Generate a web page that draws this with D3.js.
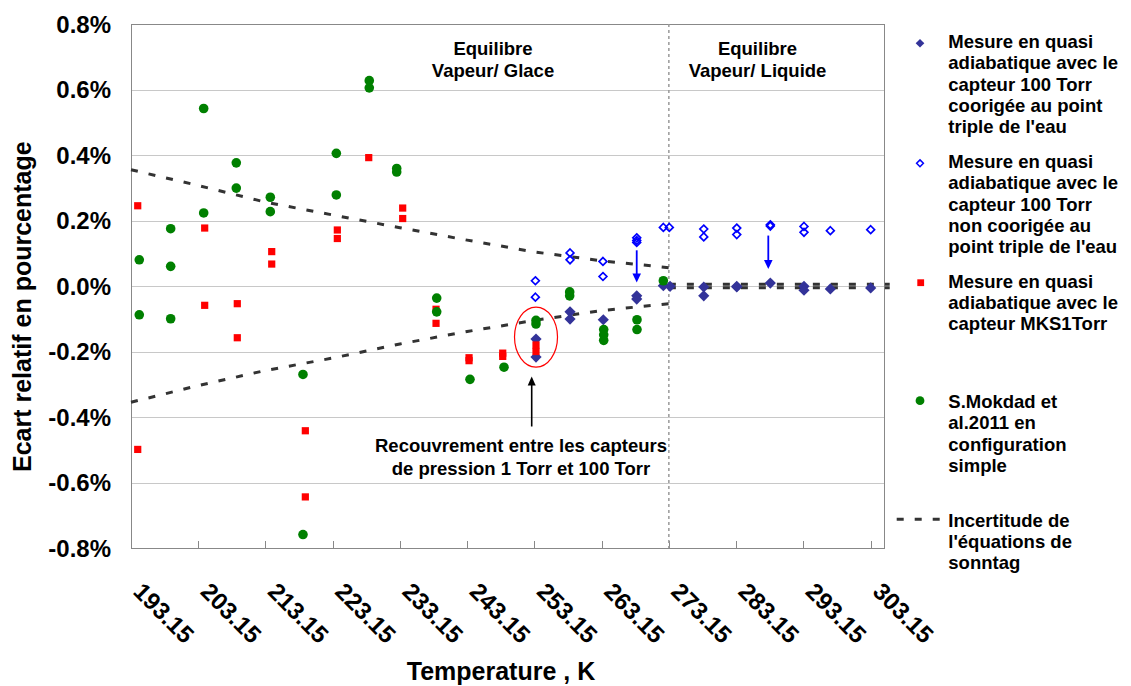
<!DOCTYPE html>
<html><head><meta charset="utf-8">
<script src="https://cdn.jsdelivr.net/npm/d3@7"></script>
<style>
body{margin:0;background:#fff;}
svg{display:block;font-family:"Liberation Sans",Arial,sans-serif;font-weight:bold;}
</style></head>
<body><svg id="c" width="1131" height="686"></svg>
<script>
// ---------- data ----------
const xTicks = [193.15,203.15,213.15,223.15,233.15,243.15,253.15,263.15,273.15,283.15,293.15,303.15];
const yTicks = [-0.8,-0.6,-0.4,-0.2,0.0,0.2,0.4,0.6,0.8];

// Mesure quasi adiabatique, capteur 100 Torr, corrigée (filled diamonds)
const corrT = [253.39,253.39,258.45,258.45,263.40,268.37,268.37,272.33,273.33,278.34,278.34,283.25,283.25,288.24,293.25,293.25,297.17,303.17];
const corrV = [-0.162,-0.217,-0.079,-0.101,-0.103,-0.030,-0.040,0.001,-0.001,-0.003,-0.030,-0.003,-0.001,0.009,-0.001,-0.013,-0.009,-0.006];

// non corrigée (open diamonds)
const rawT = [253.30,253.30,258.45,258.45,263.35,263.35,268.37,268.37,268.37,272.33,273.22,278.34,278.34,283.25,283.25,288.24,288.24,293.25,293.25,297.17,303.17];
const rawV = [0.016,-0.034,0.101,0.080,0.075,0.029,0.147,0.139,0.133,0.179,0.179,0.174,0.150,0.177,0.157,0.187,0.183,0.182,0.164,0.169,0.172];

// capteur MKS 1 Torr (red squares)
const mksT = [194.15,194.15,204.11,204.11,208.96,208.96,214.08,214.08,219.08,219.08,223.84,223.84,228.51,233.56,233.56,238.52,238.52,243.43,243.43,248.44,248.44,253.39,253.39];
const mksV = [0.245,-0.499,0.177,-0.059,-0.054,-0.158,0.105,0.067,-0.442,-0.644,0.171,0.145,0.392,0.238,0.206,-0.071,-0.114,-0.219,-0.228,-0.205,-0.215,-0.180,-0.200];

// S.Mokdad et al. 2011 (green circles)
const mokT = [194.38,194.38,199.05,199.05,199.05,203.96,203.96,208.81,208.81,213.87,213.87,218.73,218.73,223.69,223.69,228.59,228.59,232.67,232.67,238.62,238.62,243.57,248.63,253.39,253.39,258.40,258.40,263.46,263.46,263.46,268.41,268.41,272.33];
const mokV = [0.080,-0.088,0.175,0.060,-0.100,0.542,0.223,0.376,0.299,0.271,0.227,-0.270,-0.759,0.405,0.278,0.627,0.605,0.359,0.348,-0.037,-0.079,-0.285,-0.248,-0.105,-0.116,-0.018,-0.030,-0.133,-0.149,-0.166,-0.103,-0.133,0.016];

// Incertitude de l'équation de Sonntag
const uncIceT = [193.15,203.15,213.15,223.15,233.15,243.15,253.15,263.15,273.15];
const uncIceUp = [0.355,0.307,0.256,0.217,0.178,0.140,0.104,0.077,0.056];
const uncIceLo = [-0.355,-0.304,-0.258,-0.220,-0.177,-0.139,-0.105,-0.075,-0.054];
const uncLiqT = [273.15,306.0];
const uncLiqUp = [0.005,0.005];
const uncLiqLo = [-0.005,-0.005];

const triplePoint = 273.15;
// correction arrows (T, from, to)
const arrowT = [268.37,287.94];
const arrowFrom = [0.109,0.154];
const arrowTo = [0.011,0.052];
// overlap annotation
const overlapT = 253.39, overlapV = -0.156;
const noteArrowT = 252.75, noteArrowFrom = -0.429, noteArrowTo = -0.276;

const legendLabels = [
  ["Mesure en quasi","adiabatique avec le","capteur 100 Torr","coorigée au point","triple de l'eau"],
  ["Mesure en quasi","adiabatique avec le","capteur 100 Torr","non coorigée au","point triple de l'eau"],
  ["Mesure en quasi","adiabatique avec le","capteur MKS1Torr"],
  ["S.Mokdad et","al.2011 en","configuration","simple"],
  ["Incertitude de","l'équations de","sonntag"]
];

// ---------- drawing ----------
const svg = d3.select("#c");
const L = 131, R = 884, T = 24, B = 548;
const x = d3.scaleLinear().domain([193.15,305.15]).range([L,R]);
const y = d3.scaleLinear().domain([-0.8,0.8]).range([B,T]);

const COL_DIA = "#333399", COL_OPEN = "#0000ff", COL_RED = "#ff0000", COL_GREEN = "#008000";

// gridlines
svg.append("g").selectAll("line").data(yTicks).join("line")
  .attr("x1",L).attr("x2",R).attr("y1",d=>Math.round(y(d))+0.5).attr("y2",d=>Math.round(y(d))+0.5)
  .attr("stroke","#c8c8c8").attr("stroke-width",1);

// x tick marks (inward)
svg.append("g").selectAll("line").data(xTicks).join("line")
  .attr("x1",d=>Math.round(x(d))+0.5).attr("x2",d=>Math.round(x(d))+0.5)
  .attr("y1",B).attr("y2",B-7).attr("stroke","#888").attr("stroke-width",1);

// plot border
svg.append("rect").attr("x",L+0.5).attr("y",T+0.5).attr("width",R-L).attr("height",B-T)
  .attr("fill","none").attr("stroke","#888").attr("stroke-width",1);

// triple-point dotted line
svg.append("line").attr("x1",x(triplePoint)).attr("x2",x(triplePoint)).attr("y1",T).attr("y2",B)
  .attr("stroke","#999").attr("stroke-width",1.5).attr("stroke-dasharray","3,3");

// y tick labels
svg.append("g").selectAll("text").data(yTicks).join("text")
  .attr("x",111).attr("y",d=>y(d)+8.5).attr("text-anchor","end")
  .attr("font-size",24).attr("fill","#000").text(d=>d.toFixed(1)+"%");

// x tick labels (rotated)
svg.append("g").selectAll("text").data(xTicks).join("text")
  .attr("transform",d=>`translate(${x(d)+1},593) rotate(45)`)
  .attr("font-size",24).attr("fill","#000").text(d=>d.toFixed(2));

// axis titles
svg.append("text").attr("x",501).attr("y",680).attr("text-anchor","middle")
  .attr("font-size",25).text("Temperature , K");
svg.append("text").attr("transform","translate(30.5,472) rotate(-90)")
  .attr("font-size",25).text("Ecart relatif en pourcentage");

// uncertainty lines
const line = d3.line().x(d=>x(d[0])).y(d=>y(d[1]));
[[uncIceT,uncIceUp],[uncIceT,uncIceLo],[uncLiqT,uncLiqUp],[uncLiqT,uncLiqLo]].forEach(([ts,vs])=>{
  svg.append("path").attr("d",line(ts.map((t,i)=>[t,vs[i]])))
    .attr("fill","none").attr("stroke","#333").attr("stroke-width",3).attr("stroke-dasharray","7,11");
});

const diamond = h => `M0,${-h}L${h},0L0,${h}L${-h},0Z`;

// filled diamonds
svg.append("g").selectAll("path").data(corrT.map((t,i)=>[t,corrV[i]])).join("path")
  .attr("transform",d=>`translate(${x(d[0])},${y(d[1])})`).attr("d",diamond(5.6)).attr("fill",COL_DIA);
// open diamonds
svg.append("g").selectAll("path").data(rawT.map((t,i)=>[t,rawV[i]])).join("path")
  .attr("transform",d=>`translate(${x(d[0])},${y(d[1])})`).attr("d",diamond(3.9))
  .attr("fill","none").attr("stroke",COL_OPEN).attr("stroke-width",1.7);
// red squares
svg.append("g").selectAll("rect").data(mksT.map((t,i)=>[t,mksV[i]])).join("rect")
  .attr("x",d=>x(d[0])-3.6).attr("y",d=>y(d[1])-3.6).attr("width",7.2).attr("height",7.2).attr("fill",COL_RED);
// green circles
svg.append("g").selectAll("circle").data(mokT.map((t,i)=>[t,mokV[i]])).join("circle")
  .attr("cx",d=>x(d[0])).attr("cy",d=>y(d[1])).attr("r",4.8).attr("fill",COL_GREEN);

// blue correction arrows
arrowT.forEach((t,i)=>{
  const xx = x(t), y0 = y(arrowFrom[i]), y1 = y(arrowTo[i]);
  svg.append("line").attr("x1",xx).attr("x2",xx).attr("y1",y0).attr("y2",y1-8)
    .attr("stroke",COL_OPEN).attr("stroke-width",1.8);
  svg.append("path").attr("d",`M${xx-4.3},${y1-9}L${xx+4.3},${y1-9}L${xx},${y1}Z`).attr("fill",COL_OPEN);
});

// overlap ellipse
svg.append("ellipse").attr("cx",x(overlapT)).attr("cy",y(overlapV)).attr("rx",21.5).attr("ry",30)
  .attr("fill","none").attr("stroke",COL_RED).attr("stroke-width",1.2);

// black annotation arrow
{
  const xx = x(noteArrowT), y0 = y(noteArrowFrom), y1 = y(noteArrowTo);
  svg.append("line").attr("x1",xx).attr("x2",xx).attr("y1",y0).attr("y2",y1+8)
    .attr("stroke","#000").attr("stroke-width",1.6);
  svg.append("path").attr("d",`M${xx-4},${y1+9}L${xx+4},${y1+9}L${xx},${y1}Z`).attr("fill","#000");
}

// annotation text
const note = svg.append("text").attr("text-anchor","middle").attr("font-size",18.5);
note.append("tspan").attr("x",521).attr("y",451.5).text("Recouvrement entre les capteurs");
note.append("tspan").attr("x",521).attr("y",475).text("de pression 1 Torr et 100 Torr");

// region labels
[[493,"Vapeur/ Glace"],[757.5,"Vapeur/ Liquide"]].forEach(([cx,lab])=>{
  const t = svg.append("text").attr("text-anchor","middle").attr("font-size",18.5);
  t.append("tspan").attr("x",cx).attr("y",55).text("Equilibre");
  t.append("tspan").attr("x",cx).attr("y",77.3).text(lab);
});

// legend
const lg = svg.append("g");
const legTop = [48.3,168.3,287.7,408.3,526.7];
const lh = 21.1, tx = 948.3, mx = 920;
legendLabels.forEach((lines,i)=>{
  const t = lg.append("text").attr("font-size",18.5);
  lines.forEach((s,j)=>t.append("tspan").attr("x",tx).attr("y",legTop[i]+j*lh).text(s));
});
lg.append("path").attr("transform",`translate(${mx},${legTop[0]-5})`).attr("d",diamond(4.3)).attr("fill",COL_DIA);
lg.append("path").attr("transform",`translate(${mx},${legTop[1]-5})`).attr("d",diamond(3.4))
  .attr("fill","none").attr("stroke",COL_OPEN).attr("stroke-width",1.5);
lg.append("rect").attr("x",mx+0.7-3.4).attr("y",legTop[2]-5-3.4).attr("width",6.8).attr("height",6.8).attr("fill",COL_RED);
lg.append("circle").attr("cx",mx).attr("cy",legTop[3]-7.6).attr("r",4.4).attr("fill",COL_GREEN);
lg.append("line").attr("x1",896.7).attr("x2",942).attr("y1",519.3).attr("y2",519.3)
  .attr("stroke","#333").attr("stroke-width",3).attr("stroke-dasharray","7,11");
</script></body></html>
